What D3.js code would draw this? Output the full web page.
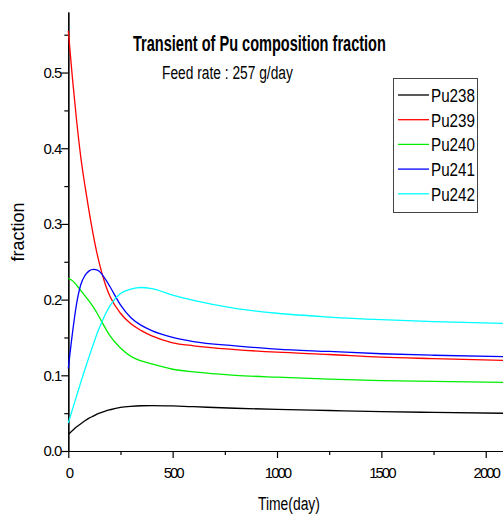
<!DOCTYPE html>
<html>
<head>
    <title>Transient of Pu composition fraction</title>
    <script src="https://d3js.org/d3.v7.min.js"></script>
    <style>
        body { margin: 0; overflow: hidden; background: #fff; }
        text { font-family: "Liberation Sans", Arial, sans-serif; fill: #000; }
    </style>
</head>
<body>
<div id="chart"></div>

<script>
    // values (time in days, fraction)
    const days = [0, 20, 40, 60, 80, 100, 120, 140, 160, 180, 200, 250, 300, 350, 400, 500, 600, 800, 1000, 1250, 1500, 1750, 2100];
    const pu238 = [0.022, 0.027, 0.032, 0.036, 0.040, 0.0435, 0.046, 0.049, 0.051, 0.053, 0.0545, 0.0575, 0.059, 0.0598, 0.060, 0.0595, 0.0585, 0.0565, 0.055, 0.0535, 0.052, 0.051, 0.0498];
    const pu239 = [0.555, 0.492, 0.436, 0.388, 0.350, 0.316, 0.285, 0.258, 0.236, 0.218, 0.204, 0.182, 0.168, 0.159, 0.152, 0.143, 0.139, 0.134, 0.1305, 0.1275, 0.124, 0.122, 0.1195];
    const pu240 = [0.228, 0.225, 0.219, 0.212, 0.205, 0.198, 0.190, 0.181, 0.171, 0.161, 0.152, 0.136, 0.125, 0.119, 0.115, 0.108, 0.1045, 0.100, 0.0975, 0.095, 0.093, 0.092, 0.0905];
    const pu241 = [0.109, 0.156, 0.195, 0.220, 0.232, 0.238, 0.240, 0.239, 0.234, 0.226, 0.217, 0.193, 0.176, 0.166, 0.159, 0.150, 0.1445, 0.139, 0.1345, 0.1315, 0.1285, 0.1265, 0.1245];
    const pu242 = [0.037, 0.055, 0.073, 0.091, 0.108, 0.125, 0.141, 0.157, 0.170, 0.182, 0.192, 0.208, 0.214, 0.216, 0.2145, 0.206, 0.199, 0.1885, 0.182, 0.177, 0.1735, 0.171, 0.1685];

    const seriesNames = ["Pu238", "Pu239", "Pu240", "Pu241", "Pu242"];
    const seriesColors = ["#000000", "#ff0000", "#00ee00", "#0000ff", "#00ffff"];
    const seriesValues = [pu238, pu239, pu240, pu241, pu242];

    const xMajor = [0, 500, 1000, 1500, 2000];
    const xMinor = [250, 750, 1250, 1750];
    const yMajor = [0.0, 0.1, 0.2, 0.3, 0.4, 0.5];
    const yMinor = [0.05, 0.15, 0.25, 0.35, 0.45, 0.55];

    const width = 503;
    const height = 515;

    const x = d3.scaleLinear()
        .domain([0, 2100])
        .range([68.3, 506.6]);

    const y = d3.scaleLinear()
        .domain([0, 0.58])
        .range([451, 12]);

    const svg = d3.select("#chart")
        .append("svg")
        .attr("width", width)
        .attr("height", height);

    // narrow text: squeeze horizontally to the width seen in the picture
    function narrowText(str, left, base, size, w, bold) {
        const g = svg.append("g");
        const t = g.append("text")
            .style("font-size", size + "px")
            .style("font-weight", bold ? "bold" : "normal")
            .text(str);
        const k = w / t.node().getComputedTextLength();
        g.attr("transform", `translate(${left},${base}) scale(${k},1)`);
        return t;
    }

    // axes: major ticks with labels, minor ticks without
    svg.append("g")
        .attr("transform", "translate(0,451)")
        .call(d3.axisBottom(x).tickValues(xMinor).tickSize(4).tickSizeOuter(0).tickFormat(""));

    const xAxis = svg.append("g")
        .attr("transform", "translate(0,451)")
        .call(d3.axisBottom(x).tickValues(xMajor).tickSize(7).tickSizeOuter(0).tickPadding(9).tickFormat(d3.format("d")));

    svg.append("g")
        .attr("transform", `translate(${x(0)},0)`)
        .call(d3.axisLeft(y).tickValues(yMinor).tickSize(4).tickSizeOuter(0).tickFormat(""));

    const yAxis = svg.append("g")
        .attr("transform", `translate(${x(0)},0)`)
        .call(d3.axisLeft(y).tickValues(yMajor).tickSize(7).tickSizeOuter(0).tickPadding(0).tickFormat(d3.format(".1f")));

    svg.selectAll(".domain").attr("stroke", "#000").attr("stroke-width", 1.2);
    svg.selectAll(".tick line").attr("stroke", "#000").attr("stroke-width", 1.2);

    xAxis.selectAll("text")
        .style("font-size", "15px")
        .style("letter-spacing", "-2px")
        .attr("fill", "#000");

    yAxis.selectAll("text")
        .style("font-size", "15px")
        .style("letter-spacing", "-1px")
        .attr("fill", "#000");

    // the curves
    const line = d3.line()
        .x((d, i) => x(days[i]))
        .y(d => y(d))
        .curve(d3.curveMonotoneX);

    seriesValues.forEach((vals, k) => {
        svg.append("path")
            .datum(vals)
            .attr("fill", "none")
            .attr("stroke", seriesColors[k])
            .attr("stroke-width", 1.3)
            .attr("d", line);
    });

    // titles
    narrowText("Transient of Pu composition fraction", 133, 51, 22, 253, true);
    narrowText("Feed rate : 257 g/day", 162, 79, 19, 131, false);
    narrowText("Time(day)", 258, 510, 19, 62, false);

    svg.append("text")
        .attr("transform", "translate(24,232) rotate(-90)")
        .attr("text-anchor", "middle")
        .style("font-size", "18px")
        .text("fraction");

    // legend
    svg.append("rect")
        .attr("x", 393.5).attr("y", 78.5)
        .attr("width", 84).attr("height", 134)
        .attr("fill", "#fff")
        .attr("stroke", "#444")
        .attr("stroke-width", 1);

    seriesNames.forEach((name, k) => {
        const ly = 95 + k * 24.7;
        svg.append("line")
            .attr("x1", 398).attr("x2", 429)
            .attr("y1", ly).attr("y2", ly)
            .attr("stroke", seriesColors[k])
            .attr("stroke-width", 1.3);
        narrowText(name, 431, ly + 7, 19, 44, false);
    });
</script>
</body>
</html>
